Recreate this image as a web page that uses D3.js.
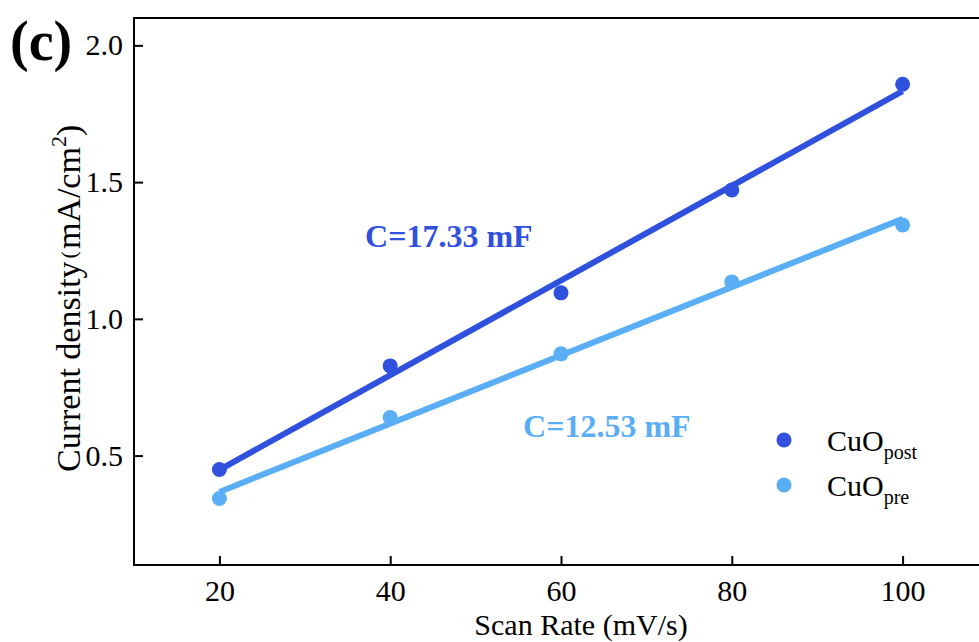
<!DOCTYPE html>
<html>
<head>
<meta charset="utf-8">
<script src="https://cdn.jsdelivr.net/npm/d3@7"></script>
<style>
  body { margin: 0; background: #fff; }
  svg { display: block; }
  svg text { font-family: "Liberation Serif", "DejaVu Serif", serif; }
  .axis path { display: none; }
  .axis line { stroke: #000; stroke-width: 2; }
  .axis text { font-size: 30px; fill: #000; font-family: "Liberation Serif", serif; }
</style>
</head>
<body>
<svg id="chart" width="979" height="642"></svg>
<script>
// scan rates (mV/s) and current densities (mA/cm2)
var scanRates = [20, 40, 60, 80, 100];
var postValues = [0.449, 0.828, 1.095, 1.471, 1.858];
var preValues = [0.343, 0.639, 0.872, 1.135, 1.343];
var xTicks = [20, 40, 60, 80, 100];
var yTicks = [0.5, 1.0, 1.5, 2.0];

var darkBlue = "#3051dd",
    lightBlue = "#5aaef5";

var svg = d3.select("#chart"),
    margin = {top: 18, left: 134, bottom: 77},
    plotRight = 988,
    height = +svg.attr("height");

var x = d3.scaleLinear()
    .domain([10, 110])
    .range([margin.left, plotRight]);

var y = d3.scaleLinear()
    .domain([0.1, 2.1])
    .range([height - margin.bottom, margin.top]);

// frame
svg.append("rect")
    .attr("x", x(10))
    .attr("y", y(2.1))
    .attr("width", x(110) - x(10))
    .attr("height", y(0.1) - y(2.1))
    .attr("fill", "none")
    .attr("stroke", "#000")
    .attr("stroke-width", 2);

svg.append("g")
    .attr("class", "axis")
    .attr("transform", "translate(0," + y(0.1) + ")")
    .call(d3.axisBottom(x).tickValues(xTicks).tickSizeInner(-9).tickSizeOuter(0).tickPadding(15));

svg.append("g")
    .attr("class", "axis")
    .attr("transform", "translate(" + x(10) + ",0)")
    .call(d3.axisLeft(y).tickValues(yTicks).tickFormat(d3.format(".1f"))
      .tickSizeInner(-9).tickSizeOuter(0).tickPadding(11));

// least squares fit
function fit(xs, ys) {
  var mx = d3.mean(xs), my = d3.mean(ys);
  var sxy = d3.sum(xs, function(d, i) { return (d - mx) * (ys[i] - my); });
  var sxx = d3.sum(xs, function(d) { return (d - mx) * (d - mx); });
  var k = sxy / sxx;
  return function(v) { return my + k * (v - mx); };
}

var series = [
  {values: postValues, color: darkBlue},
  {values: preValues, color: lightBlue}
];

var line = d3.line()
    .x(function(d) { return x(d[0]); })
    .y(function(d) { return y(d[1]); });

series.forEach(function(s) {
  var f = fit(scanRates, s.values);
  var ends = d3.extent(scanRates);
  svg.append("path")
      .attr("d", line(ends.map(function(v) { return [v, f(v)]; })))
      .attr("stroke", s.color)
      .attr("stroke-width", 6)
      .attr("fill", "none");
  svg.append("g").selectAll("circle")
    .data(s.values)
    .enter().append("circle")
      .attr("cx", function(d, i) { return x(scanRates[i]); })
      .attr("cy", function(d) { return y(d); })
      .attr("r", 7.5)
      .attr("fill", s.color);
});

// capacitance labels
svg.append("text")
    .attr("x", x(37.06))
    .attr("y", y(1.263))
    .attr("font-size", 32)
    .attr("font-weight", "bold")
    .attr("fill", darkBlue)
    .text("C=17.33 mF");

svg.append("text")
    .attr("x", x(55.56))
    .attr("y", y(0.568))
    .attr("font-size", 32)
    .attr("font-weight", "bold")
    .attr("fill", lightBlue)
    .text("C=12.53 mF");

// legend
var legend = [
  {name: "CuO", sub: "post", color: darkBlue, y: 440},
  {name: "CuO", sub: "pre", color: lightBlue, y: 485}
];
var lg = svg.append("g").selectAll("g")
  .data(legend)
  .enter().append("g");
lg.append("circle")
    .attr("cx", 784)
    .attr("cy", function(d) { return d.y; })
    .attr("r", 7.5)
    .attr("fill", function(d) { return d.color; });
var lt = lg.append("text")
    .attr("x", 827)
    .attr("y", function(d) { return d.y + 11; })
    .attr("font-size", 30);
lt.append("tspan").text(function(d) { return d.name; });
lt.append("tspan").attr("dy", 8).attr("font-size", 20).text(function(d) { return d.sub; });

// axis titles
svg.append("text")
    .attr("x", 581)
    .attr("y", 635)
    .attr("text-anchor", "middle")
    .attr("font-size", 30)
    .text("Scan Rate (mV/s)");

var yt = svg.append("text")
    .attr("transform", "translate(80,472) rotate(-90)")
    .attr("font-size", 34);
yt.append("tspan").text("Current density");
yt.append("tspan").attr("font-size", 22).attr("dx", 3).attr("dy", -4).text("(");
yt.append("tspan").attr("dx", 2).attr("dy", 4).text("mA/cm");
yt.append("tspan").attr("font-size", 22).attr("dy", -14).text("2");
yt.append("tspan").attr("dy", 14).text(")");

// panel label
svg.append("text")
    .attr("x", 10)
    .attr("y", 60)
    .attr("font-size", 56)
    .attr("font-weight", "bold")
    .text("(c)");
</script>
</body>
</html>
